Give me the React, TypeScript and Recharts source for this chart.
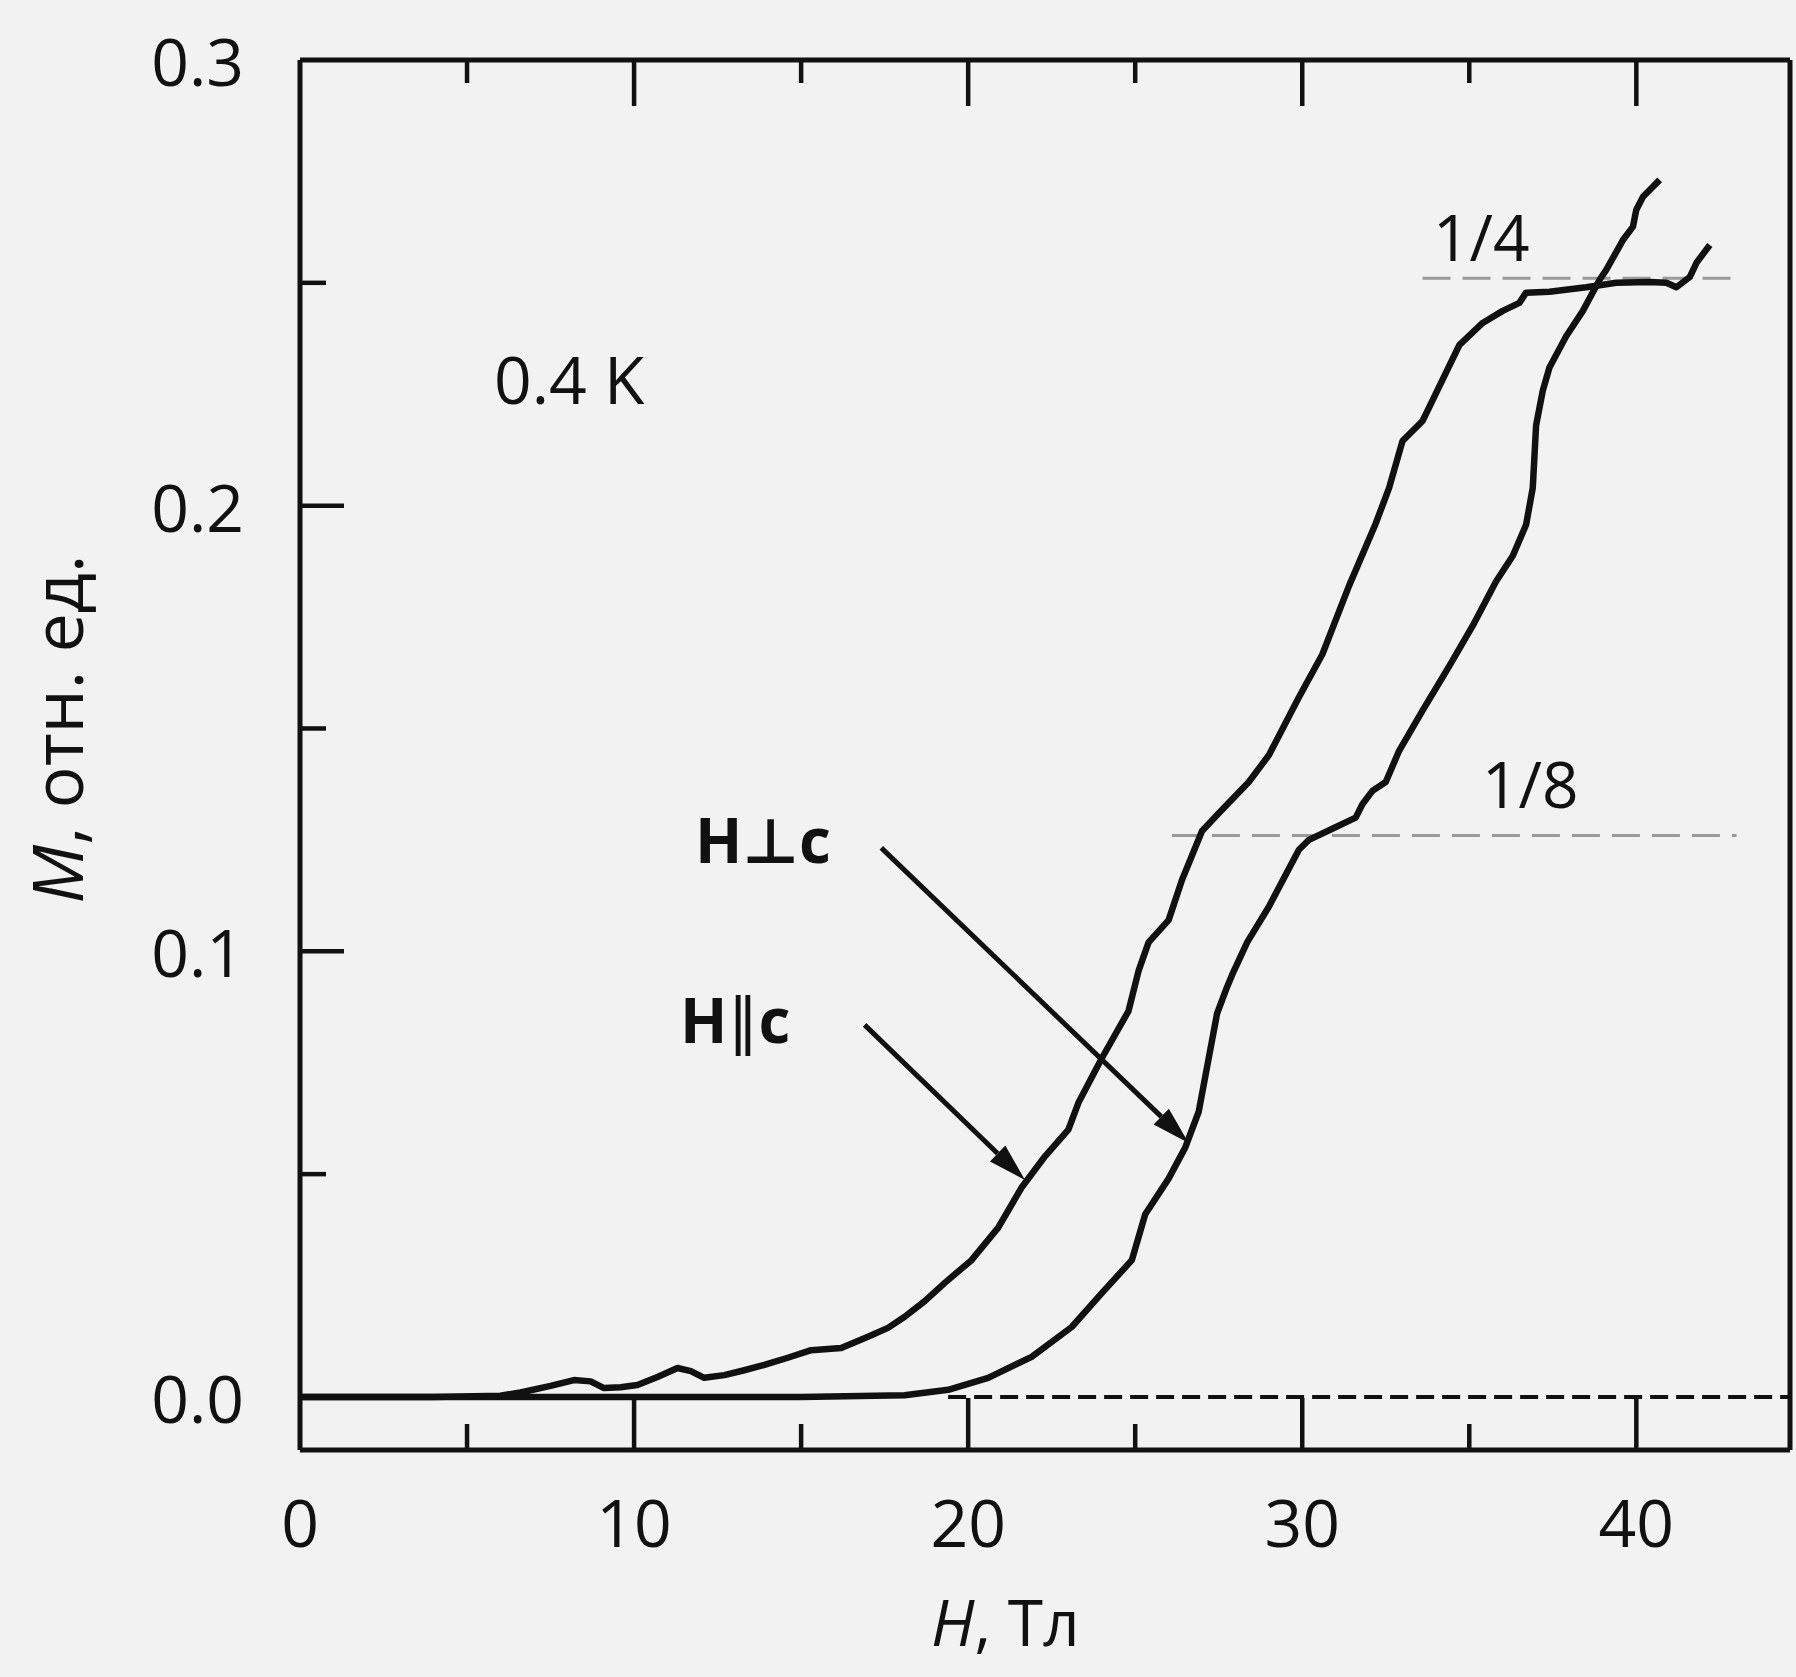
import React from "react";
import { LineChart, Line, XAxis, YAxis, ReferenceLine } from "recharts";

// H || c  (rises first, sits on the 1/4 plateau)
const parH = [
  0, 2, 4, 6, 6.6, 7.5, 8.2, 8.7, 9.1, 9.6, 10.1, 10.7, 11.3, 11.7, 12.1, 12.7,
  13.3, 13.9, 14.6, 15.3, 16.2, 17.0, 17.6, 18.1, 18.7, 19.3, 20.1, 20.9, 21.6,
  22.3, 23.0, 23.3, 24.0, 24.8, 25.1, 25.4, 26.0, 26.4, 27.0, 27.5, 28.4, 29.0,
  29.9, 30.6, 31.4, 32.2, 32.6, 33.0, 33.6, 34.1, 34.7, 35.4, 36.0, 36.5, 36.7,
  37.4, 38.5, 39.4, 40.4, 40.9, 41.2, 41.6, 41.8, 42.2,
];
const parM = [
  0, 0, 0, 0.0003, 0.001, 0.0025, 0.0038, 0.0035, 0.002, 0.0022, 0.0027, 0.0045,
  0.0065, 0.0058, 0.0043, 0.0049, 0.006, 0.0072, 0.0088, 0.0105, 0.011, 0.0135,
  0.0155, 0.018, 0.0215, 0.0256, 0.0307, 0.038, 0.047, 0.054, 0.06, 0.066, 0.076,
  0.0866, 0.0956, 0.102, 0.107, 0.116, 0.127, 0.131, 0.138, 0.144, 0.157, 0.1666,
  0.182, 0.196, 0.204, 0.2145, 0.219, 0.2267, 0.236, 0.241, 0.2437, 0.2455,
  0.2478, 0.248, 0.249, 0.25, 0.2502, 0.25, 0.249, 0.2513, 0.2545, 0.2585,
];

// H ⊥ c
const perpH = [
  0, 5, 10, 15, 18.1, 19.4, 20.6, 21.9, 23.1, 24.0, 24.9, 25.3, 26.0, 26.5, 26.9,
  27.2, 27.45, 27.75, 27.9, 28.35, 29.0, 29.9, 30.2, 30.9, 31.6, 31.8, 32.1, 32.5,
  32.9, 33.6, 34.4, 35.1, 35.8, 36.3, 36.7, 36.9, 37.0, 37.2, 37.4, 37.9, 38.4,
  38.9, 39.1, 39.6, 39.9, 40.0, 40.2, 40.7,
];
const perpM = [
  0, 0, 0, 0, 0.0004, 0.0016, 0.0043, 0.009, 0.0157, 0.0233, 0.0307, 0.041, 0.049,
  0.056, 0.064, 0.076, 0.086, 0.092, 0.0947, 0.102, 0.11, 0.1228, 0.125, 0.1275,
  0.13, 0.133, 0.136, 0.138, 0.145, 0.154, 0.164, 0.173, 0.183, 0.1887, 0.1957,
  0.204, 0.218, 0.2258, 0.231, 0.238, 0.2437, 0.2507, 0.2529, 0.2596, 0.2626,
  0.2664, 0.2693, 0.2731,
];

const xTicks = [0, 5, 10, 15, 20, 25, 30, 35, 40];
const yTicks = [0, 0.05, 0.1, 0.15, 0.2, 0.25, 0.3];
const xDomain = [0, 44.6];
const yDomain = [-0.0119, 0.3];

// dashed guide lines: [fromH, toH, M]
const zeroGuide = [19.4, 44.6, 0];
const eighthGuide = [26.1, 43.0, 0.126];
const quarterGuide = [33.6, 42.9, 0.251];

// arrows: [fromH, fromM, toH, toM]
const perpArrow = [17.4, 0.1232, 26.6, 0.057];
const parArrow = [16.9, 0.0835, 21.7, 0.0487];

const parData = parH.map((h, i) => ({ h, m: parM[i] }));
const perpData = perpH.map((h, i) => ({ h, m: perpM[i] }));

const INK = "#111";
const FONT = "'Open Sans', 'DejaVu Sans', sans-serif";

function BottomTick(props: any) {
  const { x, y, payload } = props;
  const v = payload.value;
  const major = v % 10 === 0;
  return (
    <g>
      {v > 0 && (
        <line x1={x} x2={x} y1={y} y2={y - (major ? 52 : 26)} stroke={INK} strokeWidth={4.5} />
      )}
      {major && (
        <text x={x} y={y + 97} textAnchor="middle" fontSize={66} fontFamily={FONT} fill={INK}>
          {v}
        </text>
      )}
    </g>
  );
}

function TopTick(props: any) {
  const { x, y, payload } = props;
  const v = payload.value;
  if (v <= 0) return <g />;
  const major = v % 10 === 0;
  return <line x1={x} x2={x} y1={y} y2={y + (major ? 46 : 23)} stroke={INK} strokeWidth={4.5} />;
}

function LeftTick(props: any) {
  const { x, y, payload } = props;
  const v = payload.value;
  const k = Math.round(v * 100);
  const major = k % 10 === 0;
  return (
    <g>
      {k > 0 && k < 30 && (
        <line x1={x} x2={x + (major ? 44 : 26)} y1={y} y2={y} stroke={INK} strokeWidth={4.5} />
      )}
      {major && (
        <text x={x - 56} y={y} textAnchor="end" dominantBaseline="central" fontSize={66} fontFamily={FONT} fill={INK}>
          {v.toFixed(1)}
        </text>
      )}
    </g>
  );
}

function Arrow(p: any) {
  const { x1, y1, x2, y2 } = p;
  const a = Math.atan2(y2 - y1, x2 - x1);
  const L = 38;
  const W = 11;
  const bx = x2 - L * Math.cos(a);
  const by = y2 - L * Math.sin(a);
  const lx = bx + W * Math.sin(a);
  const ly = by - W * Math.cos(a);
  const rx = bx - W * Math.sin(a);
  const ry = by + W * Math.cos(a);
  return (
    <g>
      <line x1={x1} y1={y1} x2={bx} y2={by} stroke={INK} strokeWidth={5} />
      <polygon points={`${x2},${y2} ${lx},${ly} ${rx},${ry}`} fill={INK} />
    </g>
  );
}

export default function App() {
  return (
    <div
      style={{
        position: "absolute",
        left: 0,
        top: 0,
        width: 1796,
        height: 1677,
        background: "#f2f2f2",
        overflow: "hidden",
      }}
    >
      <LineChart width={1796} height={1677} margin={{ top: 30, right: 0, bottom: 197, left: 240 }}>
        <XAxis
          xAxisId="b"
          type="number"
          dataKey="h"
          domain={xDomain}
          ticks={xTicks}
          interval={0}
          allowDataOverflow
          height={30}
          tickSize={0}
          tickMargin={0}
          tickLine={false}
          tick={<BottomTick />}
          axisLine={{ stroke: INK, strokeWidth: 5 }}
        />
        <XAxis
          xAxisId="t"
          orientation="top"
          type="number"
          dataKey="h"
          domain={xDomain}
          ticks={xTicks.slice(1)}
          interval={0}
          allowDataOverflow
          height={30}
          tickSize={0}
          tickMargin={0}
          tickLine={false}
          tick={<TopTick />}
          axisLine={{ stroke: INK, strokeWidth: 5 }}
        />
        <YAxis
          yAxisId="l"
          type="number"
          domain={yDomain}
          ticks={yTicks}
          interval={0}
          allowDataOverflow
          width={60}
          tickSize={0}
          tickMargin={0}
          tickLine={false}
          tick={<LeftTick />}
          axisLine={{ stroke: INK, strokeWidth: 5 }}
        />
        <YAxis
          yAxisId="r"
          orientation="right"
          type="number"
          domain={yDomain}
          width={6}
          tick={false}
          tickLine={false}
          axisLine={{ stroke: INK, strokeWidth: 5 }}
        />

        <ReferenceLine
          xAxisId="b"
          yAxisId="l"
          segment={[{ x: zeroGuide[0], y: zeroGuide[2] }, { x: zeroGuide[1], y: zeroGuide[2] }]}
          stroke={INK}
          strokeWidth={4}
          strokeDasharray="18 8"
          ifOverflow="visible"
        />
        <ReferenceLine
          xAxisId="b"
          yAxisId="l"
          segment={[{ x: eighthGuide[0], y: eighthGuide[2] }, { x: eighthGuide[1], y: eighthGuide[2] }]}
          stroke="#9a9a9a"
          strokeWidth={3}
          strokeDasharray="28 12"
        />
        <ReferenceLine
          xAxisId="b"
          yAxisId="l"
          segment={[{ x: quarterGuide[0], y: quarterGuide[2] }, { x: quarterGuide[1], y: quarterGuide[2] }]}
          stroke="#9a9a9a"
          strokeWidth={3}
          strokeDasharray="28 12"
        />

        <Line
          xAxisId="b"
          yAxisId="l"
          data={parData}
          dataKey="m"
          type="linear"
          stroke={INK}
          strokeWidth={6.5}
          strokeLinejoin="round"
          dot={false}
          isAnimationActive={false}
        />
        <Line
          xAxisId="b"
          yAxisId="l"
          data={perpData}
          dataKey="m"
          type="linear"
          stroke={INK}
          strokeWidth={6.5}
          strokeLinejoin="round"
          dot={false}
          isAnimationActive={false}
        />

        <ReferenceLine
          xAxisId="b"
          yAxisId="l"
          segment={[{ x: perpArrow[0], y: perpArrow[1] }, { x: perpArrow[2], y: perpArrow[3] }]}
          shape={(p: any) => <Arrow {...p} />}
        />
        <ReferenceLine
          xAxisId="b"
          yAxisId="l"
          segment={[{ x: parArrow[0], y: parArrow[1] }, { x: parArrow[2], y: parArrow[3] }]}
          shape={(p: any) => <Arrow {...p} />}
        />
      </LineChart>

      <svg
        width={1796}
        height={1677}
        style={{ position: "absolute", left: 0, top: 0, pointerEvents: "none" }}
        fontFamily={FONT}
        fill={INK}
      >
        <text x={494} y={404} fontSize={66}>0.4 K</text>
        <text x={1433} y={261} fontSize={64}>1/4</text>
        <text x={1482} y={808} fontSize={64}>1/8</text>
        <text x={695} y={863} fontSize={62} fontWeight={700}>H⊥c</text>
        <text x={680} y={1043} fontSize={62} fontWeight={700}>
          H<tspan fontWeight={400}>∥</tspan>c
        </text>
        <text x={931} y={1646} fontSize={64}>
          <tspan fontStyle="italic">H</tspan>, Тл
        </text>
        <text x={83} y={729} fontSize={70} textAnchor="middle" transform="rotate(-90 83 729)">
          <tspan fontStyle="italic">M</tspan>, отн. ед.
        </text>
      </svg>
    </div>
  );
}
